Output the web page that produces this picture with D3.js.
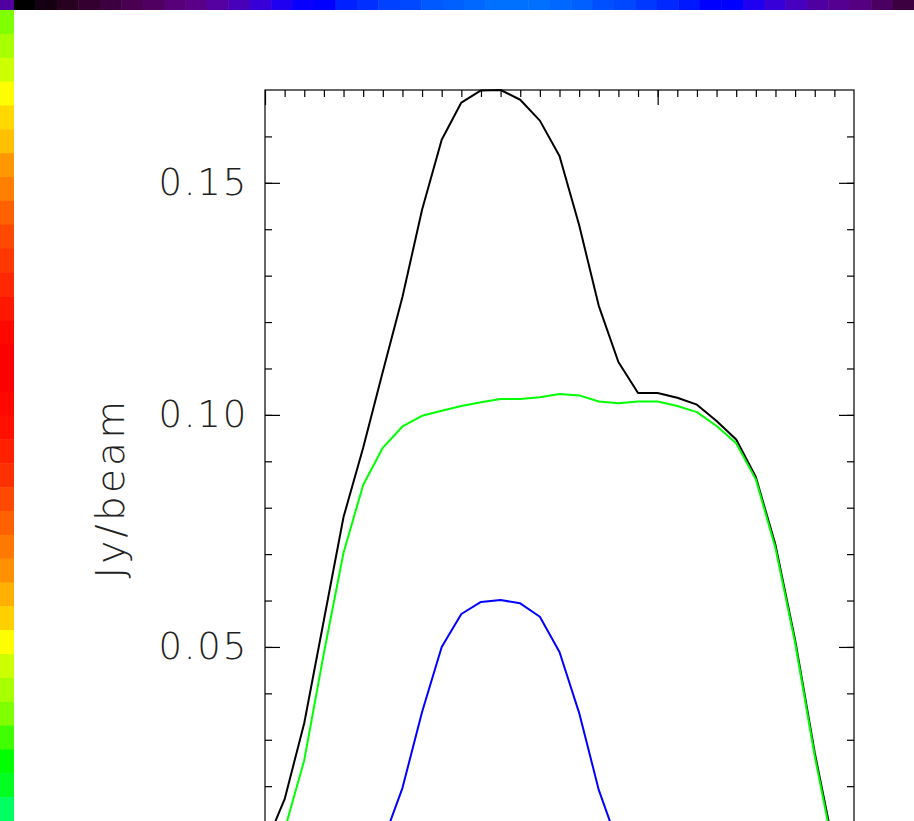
<!DOCTYPE html>
<html>
<head>
<meta charset="utf-8">
<script src="https://cdn.jsdelivr.net/npm/d3@7"></script>
<style>
  body { margin: 0; background: #fff; }
  .lbl text { font-family: "DejaVu Sans", sans-serif; font-weight: 200; }
</style>
</head>
<body>
<div id="chart"></div>
<script>
const FRAME_WIDTH = 914;
const FRAME_HEIGHT = 821;
const PLOT = {left: 265, right: 854, top: 90, bottom: 879};

// channel index along the cut (x) and profiles in Jy/beam
const channels = d3.range(0, 31);
const totalFlux = [0.0071, 0.0172, 0.0336, 0.0558, 0.0780, 0.0929, 0.1093, 0.1254, 0.1442, 0.1593,
                   0.1673, 0.1699, 0.1700, 0.1679, 0.1634, 0.1558, 0.1409, 0.1235, 0.1114, 0.1047,
                   0.1047, 0.1037, 0.1022, 0.0987, 0.0947, 0.0866, 0.0720, 0.0515, 0.0272, 0.0063, 0.0000];
const diskFlux = [0.0000, 0.0106, 0.0256, 0.0487, 0.0703, 0.0849, 0.0929, 0.0975, 0.0998, 0.1009,
                  0.1019, 0.1027, 0.1034, 0.1034, 0.1038, 0.1045, 0.1042, 0.1029, 0.1025, 0.1029,
                  0.1029, 0.1019, 0.1006, 0.0976, 0.0939, 0.0861, 0.0713, 0.0509, 0.0265, 0.0052, 0.0000];
const coreChannels = d3.range(5, 20);
const coreFlux = [0.0020, 0.0080, 0.0196, 0.0360, 0.0500, 0.0571, 0.0597, 0.0601, 0.0594, 0.0565,
                  0.0489, 0.0358, 0.0192, 0.0073, 0.0020];

const yMajorTicks = [0.05, 0.10, 0.15];
const yMinorTicks = d3.range(1, 17).map(d => d / 100);
const xMajorTicks = [0, 20];
const xMinorTicks = d3.range(1, 30);

// colour table strips along the window edges
const topStrip = ["#000000","#140010","#280020","#340030","#3c0040","#4a0050","#500060","#580078",
                  "#5a0088","#5500a0","#4800b8","#3800d8","#2000f0","#0800ff","#0000ff","#0020ff",
                  "#0030ff","#0040ff","#0048ff","#0058ff","#0060ff","#0068ff","#0070ff","#0070ff",
                  "#0070ff","#0068ff","#0060ff","#0050ff","#0048ff","#0038ff","#0028ff","#0018ff",
                  "#0000ff","#0000ff","#2000f0","#3800d8","#4800c0","#5000a0","#550090","#550080",
                  "#4a0060","#3c0040"];
const leftStrip = ["#80ff00","#a8ff00","#ccff00","#ffff00","#ffd800","#ffc000","#ff9800","#ff8000",
                   "#ff6000","#ff4800","#ff3800","#ff2800","#ff1800","#ff0800","#ff0000","#ff0000",
                   "#ff0800","#ff1000","#ff2000","#ff3000","#ff4800","#ff6000","#ff7800","#ff9000",
                   "#ffb000","#ffd000","#ffff00","#ccff00","#a8ff00","#7fff00","#40ff00","#00ff00",
                   "#00ff20","#00ff60"];

const FRAME = d3.select("#chart")
                .append("svg")
                  .attr("width", FRAME_WIDTH)
                  .attr("height", FRAME_HEIGHT);

FRAME.append("rect")
     .attr("width", FRAME_WIDTH)
     .attr("height", FRAME_HEIGHT)
     .attr("fill", "#fff");

// strips
const STRIP_W = 14, STRIP_H = 10;
const TOP_SCALE = d3.scaleBand().domain(d3.range(topStrip.length)).range([STRIP_W, FRAME_WIDTH]);
const LEFT_SCALE = d3.scaleBand().domain(d3.range(leftStrip.length)).range([STRIP_H, FRAME_HEIGHT]);

FRAME.append("rect")
     .attr("x", 0).attr("y", 0)
     .attr("width", STRIP_W).attr("height", STRIP_H)
     .attr("fill", "#5000a0");

FRAME.selectAll(".topcell")
     .data(topStrip)
     .enter()
     .append("rect")
       .attr("x", (d, i) => TOP_SCALE(i))
       .attr("y", 0)
       .attr("width", TOP_SCALE.bandwidth() + 0.5)
       .attr("height", STRIP_H)
       .attr("fill", d => d);

FRAME.selectAll(".leftcell")
     .data(leftStrip)
     .enter()
     .append("rect")
       .attr("x", 0)
       .attr("y", (d, i) => LEFT_SCALE(i))
       .attr("width", STRIP_W)
       .attr("height", LEFT_SCALE.bandwidth() + 0.5)
       .attr("fill", d => d);

// scales
const X_SCALE = d3.scaleLinear().domain([0, 30]).range([PLOT.left, PLOT.right]);
const Y_SCALE = d3.scaleLinear().domain([0, 0.17]).range([PLOT.bottom, PLOT.top]);

// axes, ticks pointing inward
function styleAxis(g) {
  g.select(".domain").remove();
  g.selectAll("line").attr("stroke", "#000").attr("stroke-width", 1.2);
}

FRAME.append("g")
     .attr("transform", "translate(0," + PLOT.top + ")")
     .call(d3.axisTop(X_SCALE).tickValues(xMinorTicks).tickSize(-7).tickFormat(""))
     .call(styleAxis);
FRAME.append("g")
     .attr("transform", "translate(0," + PLOT.top + ")")
     .call(d3.axisTop(X_SCALE).tickValues(xMajorTicks).tickSize(-15).tickFormat(""))
     .call(styleAxis);
FRAME.append("g")
     .attr("transform", "translate(0," + PLOT.bottom + ")")
     .call(d3.axisBottom(X_SCALE).tickValues(xMinorTicks).tickSize(-7).tickFormat(""))
     .call(styleAxis);

FRAME.append("g")
     .attr("transform", "translate(" + PLOT.left + ",0)")
     .call(d3.axisLeft(Y_SCALE).tickValues(yMinorTicks).tickSize(-7).tickFormat(""))
     .call(styleAxis);
FRAME.append("g")
     .attr("class", "lbl")
     .attr("transform", "translate(" + PLOT.left + ",0)")
     .call(d3.axisLeft(Y_SCALE).tickValues(yMajorTicks).tickSize(-15).tickPadding(17)
            .tickFormat(d3.format(".2f")))
     .call(styleAxis)
     .call(g => g.selectAll("text")
                 .attr("font-size", 37)
                 .attr("fill", "#222")
                 .attr("letter-spacing", 1.8));
FRAME.append("g")
     .attr("transform", "translate(" + PLOT.right + ",0)")
     .call(d3.axisRight(Y_SCALE).tickValues(yMinorTicks).tickSize(-7).tickFormat(""))
     .call(styleAxis);
FRAME.append("g")
     .attr("transform", "translate(" + PLOT.right + ",0)")
     .call(d3.axisRight(Y_SCALE).tickValues(yMajorTicks).tickSize(-15).tickFormat(""))
     .call(styleAxis);

// frame
FRAME.append("rect")
     .attr("x", PLOT.left).attr("y", PLOT.top)
     .attr("width", PLOT.right - PLOT.left)
     .attr("height", PLOT.bottom - PLOT.top)
     .attr("fill", "none")
     .attr("stroke", "#000")
     .attr("stroke-width", 1.2);

// y label
FRAME.append("g")
     .attr("class", "lbl")
     .append("text")
       .attr("transform", "translate(124," + 488 + ") rotate(-90)")
       .attr("text-anchor", "middle")
       .attr("font-size", 39)
       .attr("fill", "#222")
       .attr("letter-spacing", 3.2)
       .text("Jy/beam");

// profiles
const line = d3.line()
               .x(d => X_SCALE(d[0]))
               .y(d => Y_SCALE(d[1]));

const series = [
  {xs: channels, ys: totalFlux, color: "#000000"},
  {xs: channels, ys: diskFlux, color: "#00ff00"},
  {xs: coreChannels, ys: coreFlux, color: "#0000ff"}
];

FRAME.selectAll(".profile")
     .data(series)
     .enter()
     .append("path")
       .attr("class", "profile")
       .attr("d", s => line(s.xs.map((x, i) => [x, s.ys[i]])))
       .attr("fill", "none")
       .attr("stroke", s => s.color)
       .attr("stroke-width", 2)
       .attr("stroke-linejoin", "round");
</script>
</body>
</html>
